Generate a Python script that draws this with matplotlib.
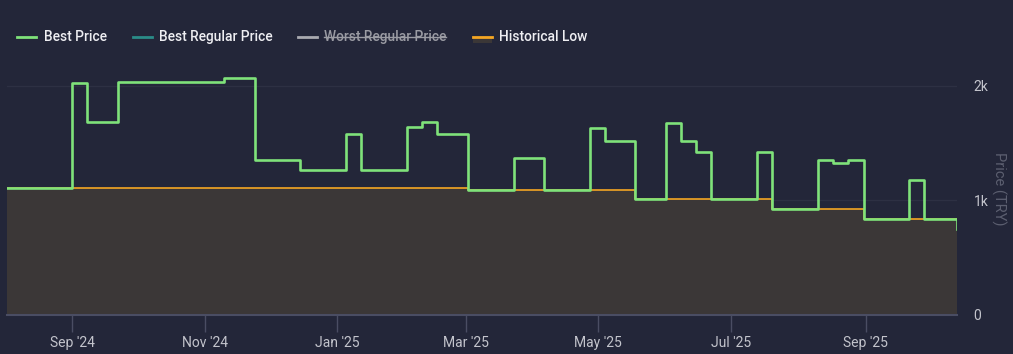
import numpy as np
import matplotlib
matplotlib.use("Agg")
import matplotlib.pyplot as plt
from matplotlib.lines import Line2D
from matplotlib.patches import Rectangle

plt.rcParams['font.family'] = ['Roboto', 'DejaVu Sans']

# price change points (steps-post)
best_dates = ['2024-08-02', '2024-09-01', '2024-09-08', '2024-09-22', '2024-11-10',
              '2024-11-24', '2024-12-15', '2025-01-05', '2025-01-12', '2025-02-02',
              '2025-02-09', '2025-02-16', '2025-03-02', '2025-03-23', '2025-04-06',
              '2025-04-27', '2025-05-04', '2025-05-18', '2025-06-01', '2025-06-08',
              '2025-06-15', '2025-06-22', '2025-07-13', '2025-07-20', '2025-08-10',
              '2025-08-17', '2025-08-24', '2025-08-31', '2025-09-21', '2025-09-28',
              '2025-10-13']
best_prices = [1105, 2025, 1685, 2035, 2070, 1350, 1265, 1580, 1265, 1645,
               1685, 1580, 1095, 1370, 1095, 1635, 1515, 1010, 1680, 1515,
               1425, 1010, 1425, 925, 1350, 1325, 1350, 840, 1180, 840,
               755]

low_dates = ['2024-08-02', '2025-03-02', '2025-05-18', '2025-07-20', '2025-08-31', '2025-10-13']
low_prices = [1105, 1095, 1010, 925, 840, 840]

tick_dates = ['2024-09-01', '2024-11-01', '2025-01-01', '2025-03-01', '2025-05-01',
              '2025-07-01', '2025-09-01']
tick_labels = ["Sep '24", "Nov '24", "Jan '25", "Mar '25", "May '25", "Jul '25", "Sep '25"]

legend_names = ['Best Price', 'Best Regular Price', 'Worst Regular Price', 'Historical Low']

bg = '#232639'
fill_c = '#3b3737'
green = '#7fe27a'
orange = '#f5a623'
teal = '#2a8c88'
grey_line = '#a9aab0'
axis_c = '#4a4d63'
text_c = '#c3c4cc'

bd = np.array(best_dates, dtype='datetime64[D]')
ld = np.array(low_dates, dtype='datetime64[D]')
td = np.array(tick_dates, dtype='datetime64[D]')

fig = plt.figure(figsize=(10.13, 3.54), dpi=100, facecolor=bg)
W, H = 1013, 354
ax = fig.add_axes([7 / W, 1 - 315 / H, 950 / W, (315 - 63) / H])
ax.set_facecolor(bg)

ax.fill_between(ld, low_prices, 0, step='post', color=fill_c, lw=0, zorder=1)
ax.step(ld, low_prices, where='post', color=orange, lw=1.2, zorder=2)
ax.step(bd, best_prices, where='post', color=green, lw=1.9, zorder=3)

ax.set_xlim(bd[0], bd[-1])
ax.set_ylim(0, 2200)

ax.set_xticks(td)
ax.set_xticklabels(tick_labels)
ax.set_yticks([0, 1000, 2000])
ax.set_yticklabels(['0', '1k', '2k'])
ax.yaxis.tick_right()
ax.yaxis.set_label_position('right')
ax.tick_params(axis='y', length=0, pad=12, labelsize=10, labelcolor=text_c)
ax.tick_params(axis='x', length=12, width=1, color=axis_c, pad=3, labelsize=10, labelcolor=text_c)
ax.set_ylabel('Price (TRY)', rotation=270, color='#5c5f70', fontsize=10.5, labelpad=13)

for s in ['top', 'left', 'right']:
    ax.spines[s].set_visible(False)
ax.spines['bottom'].set_color(axis_c)
ax.spines['bottom'].set_linewidth(1.5)

ax.grid(axis='y', color='#2d3043', lw=1, zorder=0)
ax.set_axisbelow(True)

# legend drawn by hand
ly = 1 - 37 / H
marker_x = [17, 133, 298, 473]
text_x = [44, 159, 324, 499]
marker_c = [green, teal, grey_line, orange]
renderer = fig.canvas.get_renderer()
for i, name in enumerate(legend_names):
    if i == 3:
        fig.add_artist(Rectangle((marker_x[i] / W, ly - 6 / H), 19 / W, 5 / H,
                                 transform=fig.transFigure, color=fill_c, lw=0))
    fig.add_artist(Line2D([marker_x[i] / W, (marker_x[i] + 19) / W], [ly, ly],
                          transform=fig.transFigure, color=marker_c[i], lw=2))
    tc = '#9a9ba3' if i == 2 else '#eeeef2'
    t = fig.text(text_x[i] / W, ly, name, color=tc, fontsize=9.9, fontweight='medium',
                 va='center', ha='left')
    if i == 2:
        bb = t.get_window_extent(renderer)
        fig.add_artist(Line2D([bb.x0 / W, bb.x1 / W], [ly, ly], transform=fig.transFigure,
                              color=tc, lw=1))

fig.savefig('out.png', dpi=100, facecolor=bg)
